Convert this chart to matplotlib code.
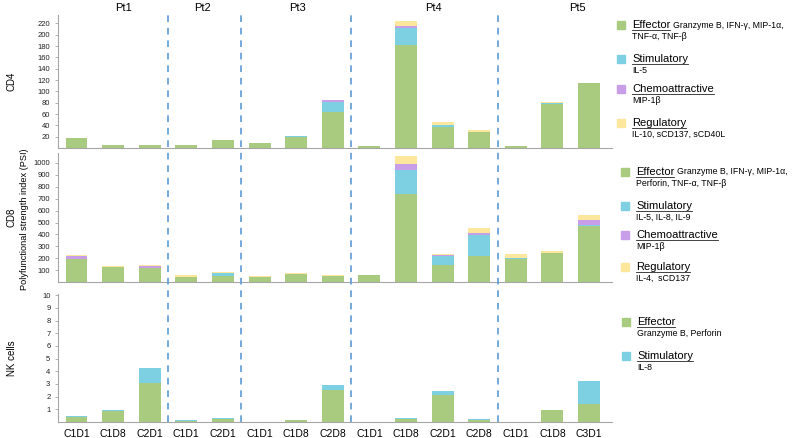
import matplotlib
matplotlib.use('Agg')
import matplotlib.pyplot as plt
from matplotlib.lines import Line2D
import numpy as np

plt.rcParams['font.family'] = ['Liberation Sans', 'DejaVu Sans']

# sample labels, grouped by patient
patients = ['Pt1', 'Pt2', 'Pt3', 'Pt4', 'Pt5']
samples = [['C1D1', 'C1D8', 'C2D1'],
           ['C1D1', 'C2D1'],
           ['C1D1', 'C1D8', 'C2D8'],
           ['C1D1', 'C1D8', 'C2D1', 'C2D8'],
           ['C1D1', 'C1D8', 'C3D1']]

# CD4 PSI by category
cd4_effector = [18, 5, 6, 5.5, 15, 9.5, 20, 64, 3, 182, 37, 28, 3.5, 77, 114]
cd4_stimulatory = [0, 0, 0, 0, 0, 0, 0.5, 18, 0, 30, 3, 0, 0, 2, 0]
cd4_chemo = [0, 0, 0, 0, 0, 0, 0.5, 2.5, 0, 4, 0, 0, 0, 0, 0]
cd4_regulatory = [0, 0, 0, 0, 0, 0, 1, 1, 0, 9, 6, 4, 0, 3, 1]

# CD8 PSI by category
cd8_effector = [193, 125, 117, 46, 52, 45, 66, 49, 63, 739, 147, 220, 195, 246, 473]
cd8_stimulatory = [0, 0, 0, 0, 23, 0, 0, 0, 0, 205, 68, 174, 5, 0, 8]
cd8_chemo = [27, 0, 19, 0, 0, 0, 0, 0, 0, 50, 14, 14, 6, 0, 38]
cd8_regulatory = [11, 9, 9, 14, 11, 7, 14, 11, 0, 67, 8, 45, 29, 19, 48]

# NK cell PSI by category
nk_effector = [0.42, 0.84, 3.05, 0.08, 0.25, 0, 0.12, 2.55, 0, 0.25, 2.1, 0.15, 0, 0.92, 1.39]
nk_stimulatory = [0.08, 0.1, 1.23, 0.05, 0.05, 0, 0.06, 0.35, 0, 0.04, 0.32, 0.05, 0, 0, 1.81]

GREEN = '#a9cb7f'
BLUE = '#7dcfe2'
PURPLE = '#c99ee8'
YELLOW = '#fde79c'
DASH = '#5b9bd5'
AXC = '#a6a6a6'

labels = [s for grp in samples for s in grp]
x = np.arange(len(labels))
bounds = np.cumsum([len(g) for g in samples])[:-1] - 0.5

fig = plt.figure(figsize=(7.97, 4.38), dpi=100)
L, R = 0.0728, 0.768
boxes = [(0.662, 0.966), (0.356, 0.651), (0.0365, 0.329)]
panels = [
    ([cd4_effector, cd4_stimulatory, cd4_chemo, cd4_regulatory], [GREEN, BLUE, PURPLE, YELLOW],
     235, np.arange(20, 221, 20), 'CD4'),
    ([cd8_effector, cd8_stimulatory, cd8_chemo, cd8_regulatory], [GREEN, BLUE, PURPLE, YELLOW],
     1085, np.arange(100, 1001, 100), 'CD8'),
    ([nk_effector, nk_stimulatory], [GREEN, BLUE], 10.1, np.arange(1, 11), 'NK cells'),
]
xlim = (-0.505, 14.63)

axes = []
for (b, t), (series, colors, ytop, yticks, name) in zip(boxes, panels):
    ax = fig.add_axes([L, b, R - L, t - b])
    bottom = np.zeros(len(labels))
    for vals, c in zip(series, colors):
        vals = np.asarray(vals, dtype=float)
        ax.bar(x, vals, width=0.6, bottom=bottom, color=c, linewidth=0)
        bottom += vals
    ax.set_xlim(*xlim)
    ax.set_ylim(0, ytop)
    ax.set_yticks(yticks)
    ax.tick_params(axis='y', labelsize=5.5, length=2.5, width=0.6, color=AXC, pad=3, labelcolor='#222222')
    ax.set_xticks([])
    for s in ('top', 'right'):
        ax.spines[s].set_visible(False)
    for s in ('left', 'bottom'):
        ax.spines[s].set_color(AXC)
        ax.spines[s].set_linewidth(0.8)
    fig.text(0.015, (b + t) / 2, name, rotation=90, ha='center', va='center', fontsize=7)
    axes.append(ax)

axes[-1].set_xticks(x)
axes[-1].set_xticklabels(labels, fontsize=7.5)
axes[-1].tick_params(axis='x', length=0, pad=5)

fig.text(0.031, 0.50, 'Polyfunctional strength index (PSI)', rotation=90,
         ha='center', va='center', fontsize=6.6)

# patient headers
pt_pos = [1.27, 3.43, 6.05, 9.74, 13.67]
for name, px in zip(patients, pt_pos):
    xf = L + (px - xlim[0]) / (xlim[1] - xlim[0]) * (R - L)
    fig.text(xf, 1 - 8 / 438, name, ha='center', va='center', fontsize=8)

# dashed separators spanning all panels
over = fig.add_axes([L, 0.0365, R - L, 0.966 - 0.0365])
over.set_xlim(*xlim)
over.set_ylim(0, 1)
over.axis('off')
over.patch.set_alpha(0)
for bx in bounds:
    over.axvline(bx, ymin=0, ymax=1, color=DASH, linestyle=(0, (4, 3.5)), linewidth=1.2)

# legends
renderer = fig.canvas.get_renderer()
W, H = 797, 438


def legend_item(sq_x, y, color, head, tail, sub):
    fig.patches.append(plt.Rectangle((sq_x / W, 1 - (y + 4) / H), 8 / W, 8 / H,
                                     transform=fig.transFigure, color=color, figure=fig))
    tx = (sq_x + 15) / W
    t = fig.text(tx, 1 - y / H, head, fontsize=8, va='center', ha='left')
    bb = t.get_window_extent(renderer=renderer)
    inv = fig.transFigure.inverted()
    (x0, y0), (x1, y1) = inv.transform([(bb.x0, bb.y0), (bb.x1, bb.y1)])
    fig.add_artist(Line2D([x0, x1], [y0 + 0.4 / H, y0 + 0.4 / H], transform=fig.transFigure,
                          color='#222222', linewidth=0.6))
    if tail:
        fig.text(x1 + 3 / W, 1 - y / H, tail, fontsize=6.3, va='center', ha='left')
    if sub:
        fig.text(tx, 1 - (y + 11.5) / H, sub, fontsize=6.3, va='center', ha='left')


legend_item(617, 25, GREEN, 'Effector', 'Granzyme B, IFN-\u03b3, MIP-1\u03b1,', 'TNF-\u03b1, TNF-\u03b2')
legend_item(617, 59, BLUE, 'Stimulatory', None, 'IL-5')
legend_item(617, 89, PURPLE, 'Chemoattractive', None, 'MIP-1\u03b2')
legend_item(617, 123, YELLOW, 'Regulatory', None, 'IL-10, sCD137, sCD40L')

legend_item(621, 172, GREEN, 'Effector', 'Granzyme B, IFN-\u03b3, MIP-1\u03b1,', 'Perforin, TNF-\u03b1, TNF-\u03b2')
legend_item(621, 206, BLUE, 'Stimulatory', None, 'IL-5, IL-8, IL-9')
legend_item(621, 235, PURPLE, 'Chemoattractive', None, 'MIP-1\u03b2')
legend_item(621, 267, YELLOW, 'Regulatory', None, 'IL-4,  sCD137')

legend_item(622, 322, GREEN, 'Effector', None, 'Granzyme B, Perforin')
legend_item(622, 356, BLUE, 'Stimulatory', None, 'IL-8')

fig.savefig('out.png', dpi=100)
